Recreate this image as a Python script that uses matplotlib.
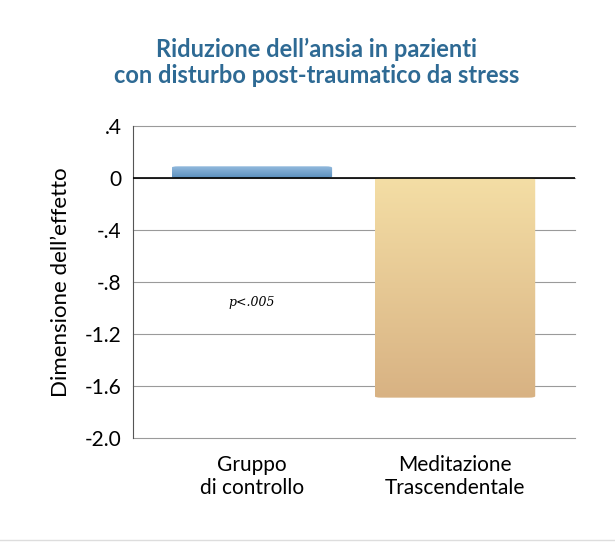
import numpy as np
import matplotlib.pyplot as plt
from matplotlib.patches import FancyBboxPatch
from matplotlib.colors import LinearSegmentedColormap

plt.rcParams['font.family'] = 'Lato'

categories = ['Gruppo\ndi controllo', 'Meditazione\nTrascendentale']
values = [0.09, -1.69]
yticks = [0.4, 0, -0.4, -0.8, -1.2, -1.6, -2.0]
ytick_labels = ['.4', '0', '-.4', '-.8', '-1.2', '-1.6', '-2.0']
gradients = [('#93bade', '#5a8fbd'), ('#f4dea5', '#d8b283')]

fig = plt.figure(figsize=(6.15, 5.42), dpi=100)
ax = fig.add_axes([0.216, 0.192, 0.719, 0.5755])
ax.set_xlim(-0.586, 1.591)
ax.set_ylim(-2.0, 0.4)

for t in yticks:
    ax.axhline(t, color='#9a9a9a', lw=0.8, zorder=0, clip_on=False)
ax.axhline(0, color='black', lw=1.2, zorder=3)

width = 0.79
for i, (v, (c_top, c_bot)) in enumerate(zip(values, gradients)):
    x0 = i - width / 2
    y0, y1 = min(0, v), max(0, v)
    grad = np.linspace(0, 1, 256).reshape(-1, 1)
    cmap = LinearSegmentedColormap.from_list('g', [c_top, c_bot])
    im = ax.imshow(grad, extent=[x0, x0 + width, y0, y1], cmap=cmap,
                   aspect='auto', origin='upper', zorder=2)
    patch = FancyBboxPatch((x0, y0), width, y1 - y0,
                           boxstyle='round,pad=0,rounding_size=0.03',
                           mutation_aspect=0.4, transform=ax.transData,
                           facecolor='none', edgecolor='none')
    ax.add_patch(patch)
    im.set_clip_path(patch)

ax.text(0, -0.96, 'p<.005', fontsize=9, style='italic', family='DejaVu Serif',
        ha='center', va='center')

ax.set_yticks(yticks)
ax.set_yticklabels(ytick_labels, fontsize=15)
ax.set_xticks([0, 1])
ax.set_xticklabels(categories, fontsize=15)
ax.tick_params(length=0, pad=12)
ax.tick_params(axis='y', pad=8)
for s in ['top', 'right', 'bottom']:
    ax.spines[s].set_visible(False)
ax.spines['left'].set_color('#555555')
ax.set_ylabel("Dimensione dell’effetto", fontsize=16, labelpad=10)

fig.text(0.515, 0.885, "Riduzione dell’ansia in pazienti\ncon disturbo post-traumatico da stress",
         ha='center', va='center', fontsize=17, fontweight='bold', color='#2e6a94',
         linespacing=1.15)
fig.add_artist(plt.Line2D([0, 1], [0.004, 0.004], color='#dddddd', lw=1))

fig.savefig('out.png', dpi=100)
